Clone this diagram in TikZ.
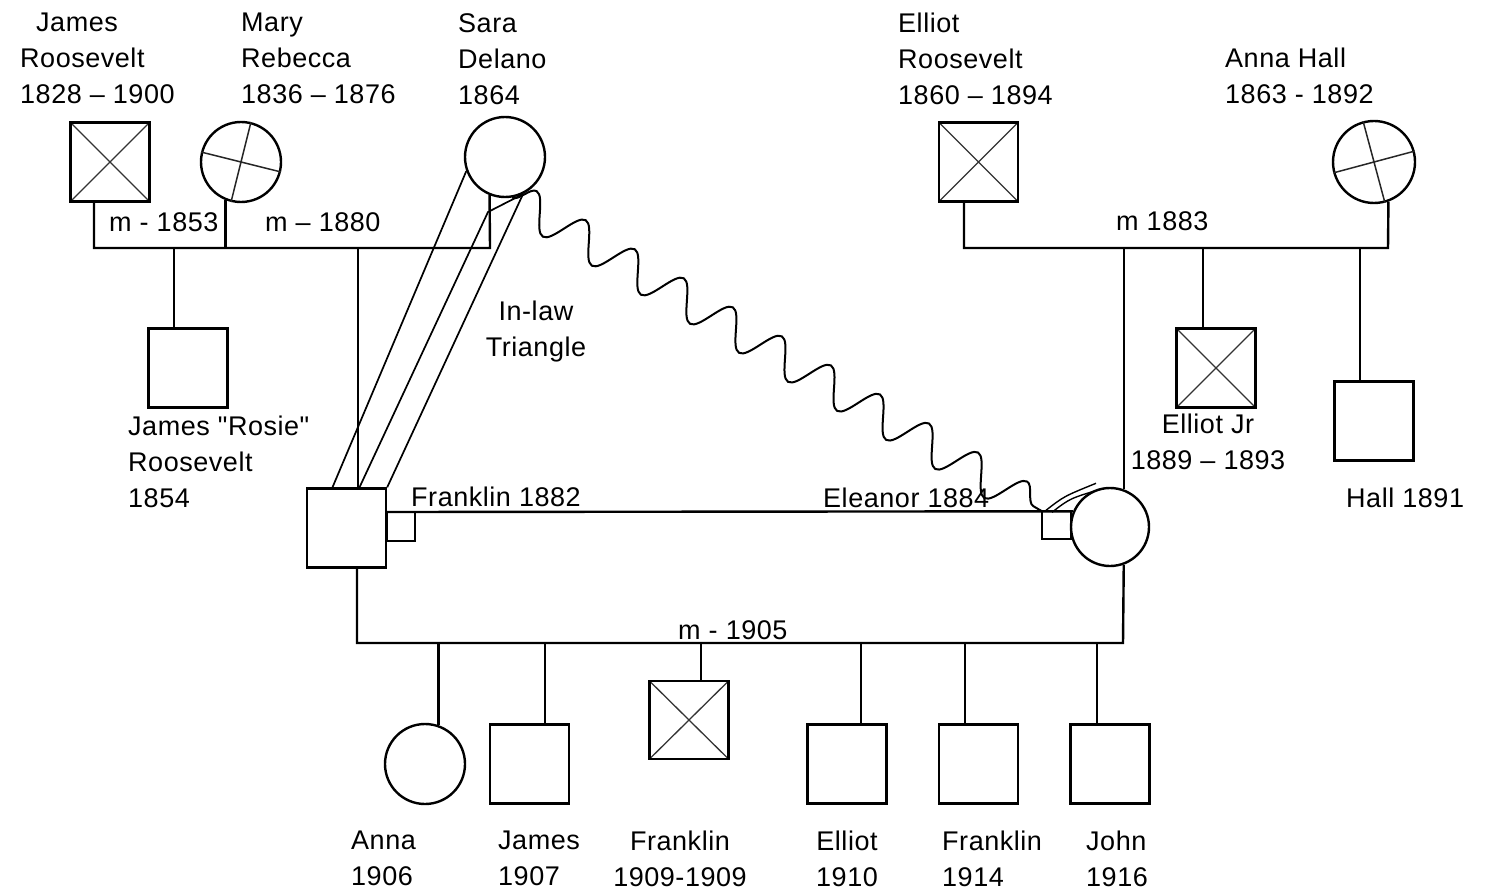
\documentclass[tikz,border=0pt]{standalone}
\usepackage{fontspec}
\setmainfont{Liberation Sans}[LetterSpace=2,Ligatures=TeXOff]
\usepackage{tikz}
\usetikzlibrary{decorations.pathmorphing}
\tikzstyle{person}=[draw=black,line width=2.4pt,inner sep=0pt]
\tikzstyle{male}=[person,rectangle,minimum width=79pt,minimum height=79pt]
\tikzstyle{female}=[person,circle,minimum size=80pt]
\tikzstyle{dead}=[path picture={\draw[line width=1.3pt,black!80]
	(path picture bounding box.north west) -- (path picture bounding box.south east)
	(path picture bounding box.north east) -- (path picture bounding box.south west);}]
\tikzstyle{txt}=[inner sep=0pt,align=left,anchor=north west,font=\fontsize{27}{36}\selectfont]
\tikzstyle{tag}=[txt,anchor=west]
\tikzstyle{cross}=[line width=1.5pt,black!85]

\begin{document}
\begin{tikzpicture}[x=1pt,y=-1pt,line width=2.4pt]
\useasboundingbox (0,0) rectangle (1486,896);
\node[male,dead] (jamesR) at (110,162) {};
\node[female] (mary) at (241,162) {};
\node[female] (sara) at (505,157) {};
\node[male,dead] (elliotR) at (978.5,162) {};
\node[female,minimum size=82pt] (annaH) at (1374,162) {};
\node[male] (rosie) at (188,368) {};
\node[male] (franklin) at (346.5,528) {};
\node[female,minimum size=78pt] (eleanor) at (1110,527) {};
\node[male,dead] (elliotJr) at (1216,368) {};
\node[male] (hall) at (1374,421) {};
\node[female] (anna) at (425,764) {};
\node[male] (james) at (529.5,764) {};
\node[male,dead,minimum height=78pt] (franklinA) at (689,720) {};
\node[male] (elliot) at (847,764) {};
\node[male] (franklinB) at (978.5,764) {};
\node[male] (john) at (1110,764) {};
\draw[cross] (mary.76) -- (mary.-104) (mary.166) -- (mary.-14);
\draw[cross] (annaH.105) -- (annaH.-75) (annaH.15) -- (annaH.-165);

\coordinate (jm) at (94,248);
\coordinate (sm) at (490,248);
\coordinate (em) at (964,248);
\coordinate (am) at (1388,248);
\coordinate (fm) at (357,643);
\coordinate (lm) at (1123,643);
\coordinate (fe) at (400,512);
\draw (jamesR.south -| jm) -- (jm) -- (sm) -- (sara.-112);
\draw (mary.-112) -- (mary.-112 |- jm);
\draw (elliotR.south -| em) -- (em) -- (am) -- (annaH.-70);
\draw (eleanor.70) -- (eleanor.70 |- em);
\draw (franklin.south -| fm) -- (fm) -- (lm) -- (eleanor.-70);
\foreach \n/\x in {rosie/174,franklin/358}
	\draw (\x,248) coordinate (d) -- (d |- \n.north);
\foreach \n/\x in {elliotJr/1203,hall/1360}
	\draw (\x,248) coordinate (d) -- (d |- \n.north);
\foreach \n/\x in {james/545,franklinA/701,elliot/861,franklinB/965,john/1097}
	\draw (\x,643) coordinate (d) -- (d |- \n.north);
\draw (anna.71) -- (anna.71 |- fm);

\draw (franklin.east |- fe) -- (eleanor.157);
\draw (franklin.east |- fe) rectangle ++(28,29);
\path (eleanor.157) ++(-31,0) coordinate (ebox);
\draw (ebox) rectangle ++(29,28);

\draw[line width=1.7pt] ([xshift=-14pt]franklin.north) -- (sara.200);
\draw[line width=1.7pt] ([xshift=13pt]franklin.north) -- (488,212) -- (sara.-64);
\draw[line width=1.7pt] (franklin.north east) -- (sara.-64);
\draw[line width=2pt,decorate,decoration={snake,segment length=57pt,amplitude=18pt}]
	(sara.-80) -- (ebox);
\draw[line width=1.4pt] (ebox) ++(4,-1) .. controls +(18,-14) .. +(50,-27);
\draw[line width=1.4pt] (ebox) ++(10,1) .. controls +(18,-14) .. +(52,-24);

\node[txt] (tJamesR) at (19,12) {\hspace*{16pt}James\\Roosevelt\\1828 – 1900};
\node[txt] (tMary) at (240,12) {Mary\\Rebecca\\1836 – 1876};
\node[txt] (tSara) at (457,12) {Sara\\Delano\\1864};
\node[txt] (tElliotR) at (897,12) {Elliot\\Roosevelt\\1860 – 1894};
\node[txt] (tAnnaH) at (1224,47) {Anna Hall\\1863 - 1892};
\node[tag] (m1853) at (108,222) {m - 1853};
\node[tag] (m1880) at (264,222) {m – 1880};
\node[tag] (m1883) at (1115,221) {m 1883};
\node[tag] (m1905) at (677,630) {m - 1905};
\node[txt] (tRosie) at (127,415) {James "Rosie"\\Roosevelt\\1854};
\node[txt,anchor=north,align=center] (tElliotJr) at (1208,413) {Elliot Jr\\1889 – 1893};
\node[tag] (tHall) at (1345,498) {Hall 1891};
\node[tag] (tFranklin) at (410,497) {Franklin 1882};
\node[tag] (tEleanor) at (822,498) {Eleanor 1884};
\node[txt,anchor=north,align=center] (tInlaw) at (536,300) {In-law\\Triangle};
\node[txt] (tAnna) at (350,830) {Anna\\1906};
\node[txt] (tJames) at (497,830) {James\\1907};
\node[txt,anchor=north,align=center] (tFranklinA) at (680,830) {Franklin\\1909-1909};
\node[txt,anchor=north,align=center] (tElliot) at (847,830) {Elliot\\1910};
\node[txt] (tFranklinB) at (941,830) {Franklin\\1914};
\node[txt] (tJohn) at (1085,830) {John\\1916};
\end{tikzpicture}
\end{document}
